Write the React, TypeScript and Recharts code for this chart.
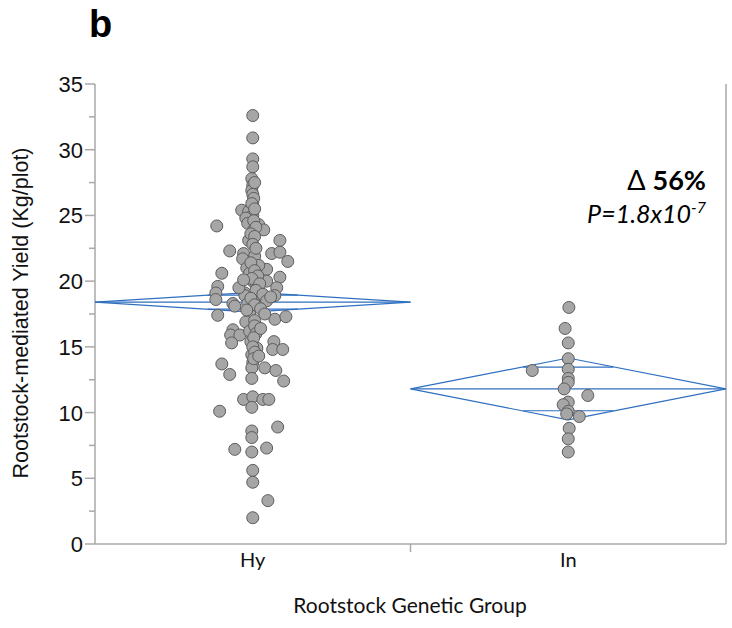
import React from "react";
import { ScatterChart, Scatter, XAxis, YAxis, ReferenceLine } from "recharts";

const categories = ["Hy", "In"];

// yield per plot (Kg); jitter is the horizontal spread as a fraction of the group band
const hyYield = [
  32.6, 30.9, 29.3, 28.7, 27.8, 27.3, 26.9, 26.6, 26.0, 25.7, 25.4, 25.3, 25.0, 24.8, 24.4, 24.3,
  23.9, 24.2, 23.9, 23.1, 23.1, 22.3, 22.1, 22.2, 22.1, 21.7, 21.9, 21.5, 21.0, 20.9, 21.2, 20.6,
  20.6, 20.3, 20.0, 19.6, 19.5, 20.0, 19.6, 19.1, 19.1, 18.9, 18.6, 18.9, 18.3, 18.1, 18.3, 18.6,
  18.1, 17.6, 17.4, 17.1, 17.3, 16.9, 17.0, 16.3, 15.9, 15.9, 16.2, 15.4, 15.3, 15.4, 14.8, 14.8,
  14.9, 14.4, 13.7, 13.8, 13.4, 13.4, 13.2, 12.9, 12.4, 12.6, 11.0, 11.2, 11.0, 11.0, 10.4, 10.1,
  8.6, 8.9, 8.1, 7.2, 7.0, 7.3, 5.6, 4.7, 3.3, 2.0, 27.5, 26.3, 25.9, 25.5, 24.6, 24.1,
  23.6, 23.4, 22.8, 22.5, 21.4, 20.8, 20.4, 20.2, 19.8, 19.3, 19.0, 18.7, 18.5, 18.2, 17.9, 17.8,
  16.6, 16.0, 15.7, 15.0, 14.6, 14.1, 19.5, 20.1, 18.8, 17.5, 16.4, 14.3,
];
const hyJitter = [
  0, 0, 0, 0, -0.003, 0, -0.003, 0, 0, 0, -0.035, -0.013, 0, -0.022, -0.016, 0.019,
  0.035, -0.114, 0.003, -0.013, 0.086, -0.073, 0.06, 0.086, -0.029, -0.032, 0.006, 0.111, -0.019, 0.044, 0.019, -0.098,
  -0.01, 0.086, 0.044, -0.111, 0.076, 0, 0.013, -0.117, -0.025, 0.07, -0.117, -0.025, -0.063, -0.057, -0.016, 0.029,
  0.019, -0.01, -0.111, 0.07, 0.105, -0.022, 0.006, -0.063, -0.07, -0.041, -0.01, -0.006, -0.067, 0.067, 0.063, 0.095,
  0.013, -0.003, -0.098, 0, -0.003, 0.038, 0.073, -0.073, 0.098, -0.003, -0.029, 0, 0.032, 0.051, -0.003, -0.105,
  -0.003, 0.079, -0.003, -0.057, -0.003, 0.044, 0, 0, 0.048, 0, 0.006, 0.003, -0.003, 0.006, 0.003, 0.01,
  -0.006, 0.006, 0, 0.01, -0.006, 0.006, 0.016, -0.003, 0.022, 0.01, 0.032, -0.006, 0.044, 0.006, 0.025, -0.019,
  0.006, 0.01, 0.003, 0, 0.006, 0.003, -0.044, -0.029, 0.057, 0.038, 0.025, 0.019,
];

const inYield = [18.0, 16.4, 15.3, 14.1, 13.2, 13.3, 12.6, 12.3, 11.8, 11.3, 10.8, 10.6, 10.1, 9.9, 9.7, 8.8, 8.0, 7.0];
const inJitter = [0.002, -0.01, 0, 0, -0.114, 0, 0, 0, -0.013, 0.062, 0, -0.016, 0, -0.005, 0.035, 0.003, 0, 0];

// means diamonds: group mean and 95% CI half width
const groupMeans = [18.4, 11.8];
const groupCI = [0.75, 2.35];

const yTicks = [0, 2.5, 5, 7.5, 10, 12.5, 15, 17.5, 20, 22.5, 25, 27.5, 30, 32.5, 35];

const AXIS = "#a9a9a9";
const BLUE = "#2f6fbf";
const FONT = "'Liberation Sans', Arial, sans-serif";
const FONT2 = "Lato, 'Liberation Sans', sans-serif";

const points = [
  ...hyYield.map((v, i) => ({ x: 0.5 + hyJitter[i], y: v })),
  ...inYield.map((v, i) => ({ x: 1.5 + inJitter[i], y: v })),
];

const segments: { x: number; y: number }[][] = [];
groupMeans.forEach((m, i) => {
  const h = groupCI[i];
  const c = i + 0.5;
  const o = h / Math.SQRT2;
  const w = 0.143;
  segments.push([
    { x: i, y: m },
    { x: c, y: m + h },
    { x: i + 1, y: m },
    { x: c, y: m - h },
    { x: i, y: m },
  ]);
  segments.push([{ x: i, y: m }, { x: i + 1, y: m }]);
  segments.push([{ x: c - w, y: m + o }, { x: c + w, y: m + o }]);
  segments.push([{ x: c - w, y: m - o }, { x: c + w, y: m - o }]);
});

function YTick({ x, y, payload }: any) {
  const major = payload.value % 5 === 0;
  return (
    <g>
      <line x1={x - (major ? 10 : 6)} x2={x} y1={y} y2={y} stroke={AXIS} strokeWidth={1.5} />
      {major && (
        <text x={x - 12} y={y} dy={8} textAnchor="end" fontSize={22} fill="#111" fontFamily={FONT}>
          {payload.value}
        </text>
      )}
    </g>
  );
}

function XTick({ x, y, payload }: any) {
  if (payload.value === 1) {
    return <line x1={x} x2={x} y1={y} y2={y + 8} stroke={AXIS} strokeWidth={1.5} />;
  }
  return (
    <text x={x} y={y} dy={23} textAnchor="middle" fontSize={20} fill="#111" fontFamily={FONT2}>
      {categories[Math.floor(payload.value)]}
    </text>
  );
}

const Dot = (p: any) => (
  <circle cx={p.cx} cy={p.cy} r={6} fill="#a6a6a6" stroke="#5c5c5c" strokeWidth={1} />
);

export default function App() {
  return (
    <div style={{ position: "absolute", left: 0, top: 0, width: 732, height: 628, background: "#fff" }}>
      <ScatterChart width={732} height={628} margin={{ top: 84, right: 6, bottom: 34, left: 35 }}>
        <XAxis
          type="number"
          dataKey="x"
          domain={[0, 2]}
          ticks={[0.5, 1, 1.5]}
          tick={<XTick />}
          tickLine={false}
          tickSize={0}
          tickMargin={0}
          height={50}
          axisLine={{ stroke: AXIS, strokeWidth: 1.5 }}
          allowDataOverflow
        />
        <YAxis
          type="number"
          dataKey="y"
          domain={[0, 35]}
          ticks={yTicks}
          interval={0}
          tick={<YTick />}
          tickLine={false}
          tickSize={0}
          tickMargin={0}
          width={60}
          axisLine={{ stroke: AXIS, strokeWidth: 1.5 }}
          allowDataOverflow
        />
        <ReferenceLine x={2} stroke={AXIS} strokeWidth={1.5} />
        {segments.map((s, k) => (
          <Scatter
            key={k}
            data={s}
            line={{ stroke: BLUE, strokeWidth: 1.2 }}
            lineType="joint"
            shape={() => <g />}
            isAnimationActive={false}
          />
        ))}
        <Scatter data={points} shape={Dot} isAnimationActive={false} />
      </ScatterChart>
      <svg width={732} height={628} style={{ position: "absolute", left: 0, top: 0, pointerEvents: "none" }}>
        <text x={89} y={37} fontSize={38} fontWeight="bold" fontFamily={FONT} fill="#000">
          b
        </text>
        <text x={706} y={190} textAnchor="end" fontSize={27} fontFamily={FONT2} fill="#000">
          <tspan>Δ </tspan>
          <tspan fontWeight="bold">56%</tspan>
        </text>
        <text x={706} y={223} textAnchor="end" fontSize={25} fontStyle="italic" fontFamily={FONT2} fill="#000">
          <tspan>P=1.8x10</tspan>
          <tspan dy={-10} fontSize={16}>-7</tspan>
        </text>
        <text
          transform="translate(28,313) rotate(-90)"
          textAnchor="middle"
          fontSize={21.5}
          fontFamily={FONT}
          fill="#111"
        >
          Rootstock-mediated Yield (Kg/plot)
        </text>
        <text x={410} y={613} textAnchor="middle" fontSize={21} fontFamily={FONT2} fill="#111">
          Rootstock Genetic Group
        </text>
      </svg>
    </div>
  );
}
